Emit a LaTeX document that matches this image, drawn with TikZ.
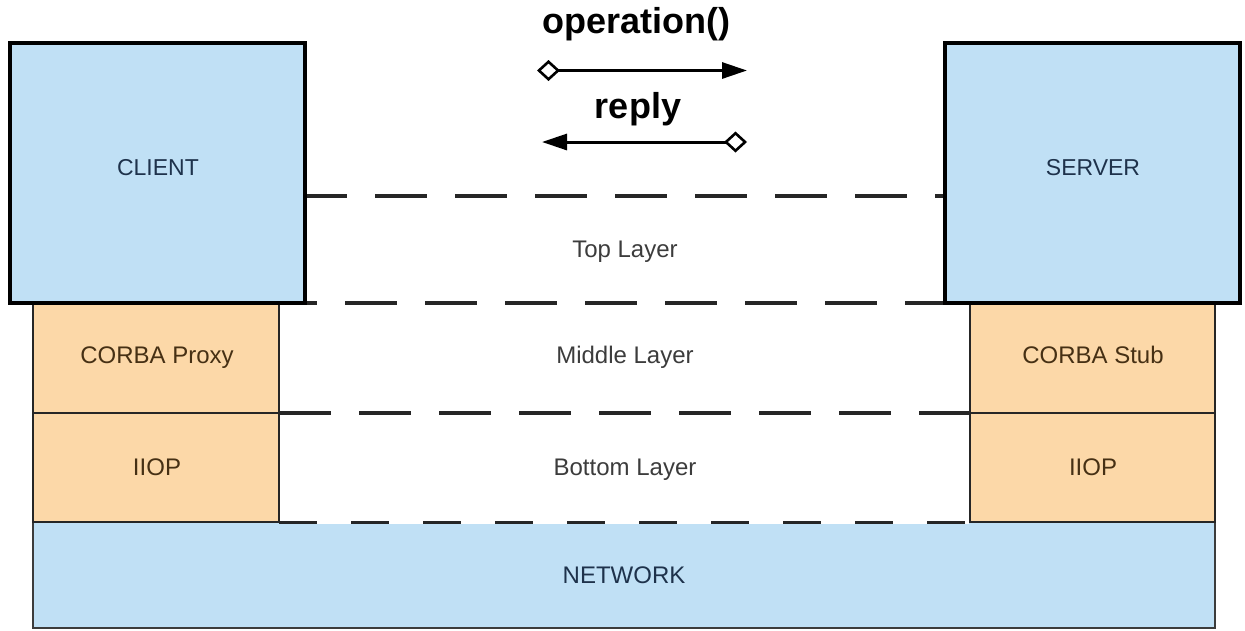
\documentclass[tikz,border=0pt]{standalone}
\usepackage{fontspec}
\setmainfont{Liberation Sans}
\usetikzlibrary{arrows.meta}
\definecolor{bluefill}{RGB}{192,224,245}
\definecolor{orangefill}{RGB}{252,216,168}
\definecolor{navytext}{RGB}{30,50,75}
\definecolor{browntext}{RGB}{70,48,20}
\definecolor{graytext}{RGB}{60,60,60}
\definecolor{edgegray}{RGB}{60,60,60}
\tikzset{
  hostbox/.style={draw=black, line width=4.5pt, fill=bluefill, inner sep=0pt},
  layerbox/.style={draw=black!85, line width=2.4pt, fill=orangefill, inner sep=0pt},
  netbox/.style={draw=edgegray, line width=1.5pt, fill=bluefill, inner sep=0pt},
  dashline/.style={draw=black!85, line width=3.5pt, dash pattern=on 52pt off 28pt},
  hosttext/.style={font=\fontsize{23}{26}\selectfont, text=navytext, anchor=base, inner sep=0pt},
  stacktext/.style={font=\fontsize{24}{27}\selectfont, text=browntext, anchor=base, inner sep=0pt},
  laytext/.style={font=\fontsize{24}{27}\selectfont, text=graytext, anchor=base, inner sep=0pt},
  msgtext/.style={font=\fontsize{36}{40}\selectfont\bfseries, text=black, anchor=base, inner sep=0pt},
  msgarrow/.style={line width=3pt, {Diamond[open,length=23pt,width=21pt,line width=2.6pt]}-{Triangle[length=25pt,width=16pt]}}
}
\begin{document}
\begin{tikzpicture}[x=1pt,y=-1pt]
\useasboundingbox (0,0) rectangle (1245,630);
\fill[white] (0,0) rectangle (1245,630);

% network
\node[netbox, minimum width=1182pt, minimum height=106pt] (net) at (624,575) {};
\node[hosttext, font=\fontsize{24}{27}\selectfont] (nettxt) at (624,583) {NETWORK};

% dashed layer lines
\draw[dashline, dash phase=10pt] (305,196) -- (945,196);
\draw[dashline, dash phase=40pt] (305,303) -- (945,303);
\draw[dashline, dash phase=0pt] (279,413) -- (970,413);
\draw[white, line width=3pt] (280,522) -- (969,522);
\draw[dashline, line width=3pt, dash pattern=on 38pt off 34pt, dash phase=0pt] (279,522) -- (970,522);

% left stack
\node[layerbox, minimum width=246pt, minimum height=110pt] (proxy) at (156,358) {};
\node[stacktext] (proxytxt) at (157,363) {CORBA Proxy};
\node[layerbox, minimum width=246pt, minimum height=109pt] (iiopl) at (156,467.5) {};
\node[stacktext] (iiopltxt) at (157,475) {IIOP};

% right stack
\node[layerbox, minimum width=245pt, minimum height=110pt] (stub) at (1092.5,358) {};
\node[stacktext] (stubtxt) at (1093,363) {CORBA Stub};
\node[layerbox, minimum width=245pt, minimum height=109pt] (iiopr) at (1092.5,467.5) {};
\node[stacktext] (iioprtxt) at (1093,475) {IIOP};

% hosts
\node[hostbox, minimum width=295pt, minimum height=260pt] (client) at (157.5,173) {};
\node[hosttext] (clienttxt) at (158,175.5) {CLIENT};
\node[hostbox, minimum width=295pt, minimum height=260pt] (server) at (1092.5,173) {};
\node[hosttext] (servertxt) at (1093,175.5) {SERVER};

% layer labels
\node[laytext] (top) at (625,257) {Top Layer};
\node[laytext] (mid) at (625,363) {Middle Layer};
\node[laytext] (bot) at (625,475) {Bottom Layer};

% messages
\node[msgtext] (op) at (636,33) {operation()};
\coordinate (opA) at (537,70.5);
\coordinate (opB) at (747,70.5);
\draw[msgarrow] (opA) -- (opB);
\node[msgtext] (rep) at (638,118) {reply};
\coordinate (repA) at (747,142);
\coordinate (repB) at (542,142);
\draw[msgarrow] (repA) -- (repB);
\end{tikzpicture}
\end{document}
